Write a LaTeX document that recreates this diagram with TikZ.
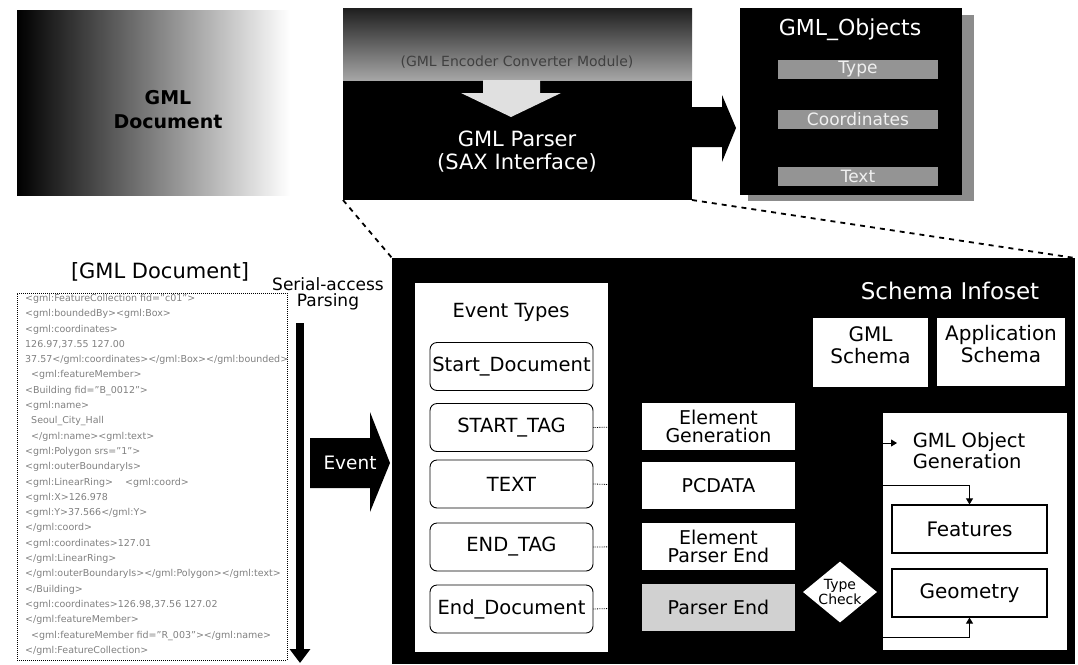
\documentclass[tikz,border=0pt]{standalone}
\usepackage{fontspec}
\setmainfont{DejaVu Sans}
\usetikzlibrary{fit,arrows.meta,shapes.geometric,calc}

\newcommand\fsz[2]{\fontsize{#1}{#2}\selectfont}

\begin{document}
\begin{tikzpicture}[x=1pt,y=-1pt,
  area/.style={inner sep=0pt, outer sep=0pt},
  objbar/.style={fill=black!42, text=black!6, font=\fsz{17}{18},
    minimum width=160pt, minimum height=19pt, inner sep=0pt},
  evbox/.style={draw, line width=0.9pt, rounded corners=7pt, fill=white,
    minimum width=163pt, minimum height=48pt, inner sep=0pt, font=\fsz{19.5}{20}},
  midbox/.style={fill=white, minimum width=153pt, minimum height=47pt,
    inner sep=0pt, align=center, font=\fsz{19}{18}},
  schemabox/.style={area, fill=white, align=center, font=\fsz{20}{22}},
  genbox/.style={draw, line width=1.2pt, fill=white, minimum width=155pt,
    minimum height=48pt, inner sep=0pt, font=\fsz{20}{20}},
  link/.style={densely dotted, line width=0.8pt},
  conn/.style={line width=0.9pt, -{Triangle[width=7pt,length=6pt]}},
  zoomline/.style={line width=1.8pt, dash pattern=on 5pt off 5pt}
]
\useasboundingbox (0,0) rectangle (1078,664);

% --- GML document (shaded) -------------------------------------------
\node[area, fit={(17,10) (290,195)}, left color=black, middle color=black!62,
  right color=white] (gmldoc) {};
\node[font=\bfseries\fsz{19}{24}, align=center] (gmldoctext) at (168,110)
  {GML\\Document};

% --- GML parser ---------------------------------------------------------
\node[area, fit={(343,8) (692,200)}, fill=black] (parser) {};
\node[area, fit={(343,8) (692,80)}, top color=black!88, bottom color=black!35]
  (encoder) {};
\node[font=\fsz{14}{16}, text=black!75] (encodertext) at (517,62)
  {(GML Encoder Converter Module)};
\fill[black!12] (483,80) -- (540,80) -- (540,93) -- (561,93) -- (511,117)
  -- (461,93) -- (483,93) -- cycle;
\node[text=white, font=\fsz{21}{23}, align=center] (parsertext) at (517,152)
  {GML Parser\\(SAX Interface)};

% block arrow: parser -> objects
\fill (692,107) -- (722,107) -- (722,95) -- (736,128) -- (722,162)
  -- (722,147) -- (692,147) -- cycle;

% --- GML objects --------------------------------------------------------
\fill[black!45] (748,15) rectangle (974,201);
\node[area, fit={(740,8) (962,195)}, fill=black] (objects) {};
\node[text=white, font=\fsz{22}{24}] (objtitle) at (850,30) {GML\_Objects};
\node[objbar] (otype)  at (858,69)  {Type};
\node[objbar] (ocoord) at (858,119) {Coordinates};
\node[objbar] (otext)  at (858,176) {Text};

% --- GML document listing -----------------------------------------------
\node[font=\fsz{21}{24}] (doclabel) at (160,272) {[GML Document]};
\node[area, fit={(17,293) (287,660)}, draw, densely dotted, line width=1pt]
  (doclist) {};
\node[anchor=north west, inner sep=0pt, align=left, text=black!50,
  font=\fsz{9.5}{15.3}] (doctext) at (25,294) {%
<gml:FeatureCollection fid="c01">\\
<gml:boundedBy><gml:Box>\\
<gml:coordinates>\\
126.97,37.55 127.00\\
37.57</gml:coordinates></gml:Box></gml:bounded>\\
\ \ <gml:featureMember>\\
<Building fid="B\_0012">\\
<gml:name>\\
\ \ Seoul\_City\_Hall\\
\ \ </gml:name><gml:text>\\
<gml:Polygon srs="1">\\
<gml:outerBoundaryIs>\\
<gml:LinearRing>\ \ \ \ <gml:coord>\\
<gml:X>126.978\\
<gml:Y>37.566</gml:Y>\\
</gml:coord>\\
<gml:coordinates>127.01\\
</gml:LinearRing>\\
</gml:outerBoundaryIs></gml:Polygon></gml:text>\\
</Building>\\
<gml:coordinates>126.98,37.56 127.02\\
</gml:featureMember>\\
\ \ <gml:featureMember fid="R\_003"></gml:name>\\
</gml:FeatureCollection>};

% --- serial-access parsing ----------------------------------------------
\node[font=\fsz{17}{16.5}, align=center] (serial) at (328,294)
  {Serial-access\\Parsing};
\coordinate (scantop) at (300,323);
\coordinate (scanend) at (300,663);
\draw[line width=8pt, -{Triangle[width=20pt,length=14pt]}] (scantop) -- (scanend);

% event block arrow
\fill (310,438) -- (370,438) -- (370,412) -- (390,463) -- (370,512)
  -- (370,488) -- (310,488) -- cycle;
\node[text=white, font=\fsz{18.5}{20}] (eventtext) at (350,463) {Event};

% --- processing block ---------------------------------------------------
\node[area, fit={(392,258) (1075,664)}, fill=black] (bigbox) {};
\draw[zoomline] (parser.south west) -- (bigbox.north west);
\draw[zoomline] (parser.south east) -- (bigbox.north east);

% event types
\node[area, fit={(415,283) (608,652)}, fill=white] (evpanel) {};
\node[font=\fsz{19.5}{20}] (evtitle) at (511,312) {Event Types};
\node[evbox] (startdoc) at (511.5,366.5) {Start\_Document};
\node[evbox] (starttag) at (511.5,427.5) {START\_TAG};
\node[evbox] (textev)   at (511.5,484)   {TEXT};
\node[evbox] (endtag)   at (511.5,547)   {END\_TAG};
\node[evbox] (enddoc)   at (511.5,609)   {End\_Document};

% handlers
\node[midbox] (elemgen)  at (718.5,426.5) {Element\\Generation};
\node[midbox] (pcdata)   at (718.5,485.5) {PCDATA};
\node[midbox] (elemend)  at (718.5,546.5) {Element\\Parser End};
\node[midbox, fill=black!18] (parserend) at (718.5,607.5) {Parser End};

\draw[link] (starttag.east) -- (elemgen.west);
\draw[link] (textev.east) -- (pcdata.west);
\draw[link] (endtag.east) -- (elemend.west);
\draw[link] (enddoc.east) -- (parserend.west);

% schema infoset
\node[text=white, font=\fsz{23}{24}] (infoset) at (950,291) {Schema Infoset};
\node[schemabox, fit={(813,318) (928,387)}] (gmlschema) {GML\\Schema};
\node[schemabox, fit={(937,318) (1065,386)}] (appschema) {Application\\Schema};

% object generation
\node[area, fit={(883,413) (1067,650)}, fill=white] (objpanel) {};
\node[font=\fsz{19.5}{21}, align=left] (objgen) at (969,451)
  {GML Object\\Generation};
\node[genbox] (features) at (969.5,529) {Features};
\node[genbox] (geometry) at (969.5,593) {Geometry};

\node[diamond, aspect=1.2, fill=white, minimum width=74pt, minimum height=61pt,
  inner sep=0pt, align=center, font=\fsz{14}{12.5}] (typecheck) at (840,592)
  {Type\\Check};

\coordinate (ogin) at (897,443);
\coordinate (gbend) at (969.5,637);
\draw[conn] (elemgen.east) -- ++(60,0) |- (ogin);
\draw[conn] (pcdata.east) -| (features.north);
\draw[conn] (typecheck.south) |- (gbend) -- (geometry.south);
\end{tikzpicture}
\end{document}
